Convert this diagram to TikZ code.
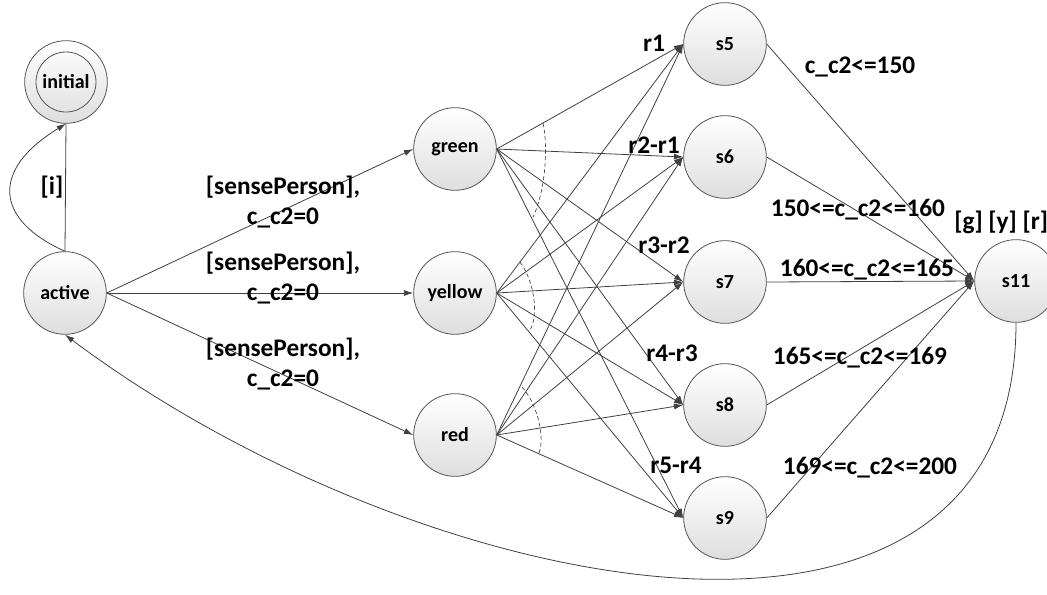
\documentclass[tikz,border=0pt]{standalone}
\usepackage{fontspec}
\setmainfont{Carlito}
\usetikzlibrary{arrows.meta}

\definecolor{linegray}{RGB}{64,64,64}
\definecolor{rimgray}{RGB}{85,85,85}

\tikzset{
  state/.style={circle, draw=rimgray, line width=0.6pt, top color=white, bottom color=black!13,
    minimum size=62pt, inner sep=0pt, font=\fontsize{15}{18}\selectfont\bfseries},
  link/.style={draw=linegray, line width=0.6pt},
  arr/.style={link, -{Latex[length=7pt,width=4.5pt]}},
  lbl/.style={inner sep=0.75pt, align=center, font=\fontsize{19}{23}\selectfont\bfseries},
  sweep/.style={draw=linegray, line width=0.5pt, dash pattern=on 3pt off 2pt}
}

\begin{document}
\begin{tikzpicture}[x=0.75pt,y=0.75pt,yscale=-1,xscale=1]
    \useasboundingbox (0,0) rectangle (1047,594);

    %States
    \node[state] (initial) at (66,82) {initial};
    \draw[rimgray, line width=0.6pt] (initial.center) circle (22.5pt);
    \node[state] (active) at (65,293) {active};
    \node[state] (green) at (455,149) {green};
    \node[state] (yellow) at (455,293) {yellow};
    \node[state] (red) at (455,435) {red};
    \node[state] (s5) at (725,44) {s5};
    \node[state] (s6) at (725,157) {s6};
    \node[state] (s7) at (725,282) {s7};
    \node[state] (s8) at (725,405) {s8};
    \node[state] (s9) at (725,518) {s9};
    \node[state] (s11) at (1016,281) {s11};

    %active <-> initial
    \draw[link] (active.north) -- (initial.south);
    \draw[arr] (active.north) .. controls (-5,220) and (-10,170) .. (initial.south);

    %active -> lights
    \draw[arr] (active.east) -- (green.west);
    \draw[arr] (active.east) -- (yellow.west);
    \draw[arr] (active.east) -- (red.west);

    %lights -> s5..s9
    \draw[arr] (green.east) -- (s5.west);
    \draw[arr] (green.east) -- (s6.west);
    \draw[arr] (green.east) -- (s7.west);
    \draw[arr] (green.east) -- (s8.west);
    \draw[arr] (green.east) -- (s9.west);
    \draw[arr] (yellow.east) -- (s5.west);
    \draw[arr] (yellow.east) -- (s6.west);
    \draw[arr] (yellow.east) -- (s7.west);
    \draw[arr] (yellow.east) -- (s8.west);
    \draw[arr] (yellow.east) -- (s9.west);
    \draw[arr] (red.east) -- (s5.west);
    \draw[arr] (red.east) -- (s6.west);
    \draw[arr] (red.east) -- (s7.west);
    \draw[arr] (red.east) -- (s8.west);
    \draw[arr] (red.east) -- (s9.west);

    %dashed sweeps
    \draw[sweep] (543,123) .. controls (548,145) and (546,190) .. (533,217);
    \draw[sweep] (520,262) .. controls (534,280) and (539,315) .. (530,330);
    \draw[sweep] (522,387) .. controls (538,405) and (546,440) .. (538,455);

    %s5..s9 -> s11
    \draw[arr] (s5.east) -- (s11.west);
    \draw[arr] (s6.east) -- (s11.west);
    \draw[arr] (s7.east) -- (s11.west);
    \draw[arr] (s8.east) -- (s11.west);
    \draw[arr] (s9.east) -- (s11.west);

    %back to active
    \draw[arr] (s11.south) .. controls (1016,720) and (420,600) .. (active.south);

    % Text Node
    \node[lbl] (li) at (52,187) {[i]};
    \node[lbl] (lgreen) at (283,202) {[sensePerson],\\c\_c2=0};
    \node[lbl] (lyellow) at (283,278) {[sensePerson],\\c\_c2=0};
    \node[lbl] (lred) at (283,364) {[sensePerson],\\c\_c2=0};
    % Text Node
    \node[lbl] (lr1) at (654,43) {r1};
    \node[lbl] (lr2) at (654,145) {r2-r1};
    \node[lbl] (lr3) at (664,245) {r3-r2};
    \node[lbl] (lr4) at (672,353) {r4-r3};
    \node[lbl] (lr5) at (676,465) {r5-r4};
    % Text Node
    \node[lbl] (lc5) at (860,67) {c\_c2<=150};
    \node[lbl] (lc6) at (858,210) {150<=c\_c2<=160};
    \node[lbl] (lc7) at (867,270) {160<=c\_c2<=165};
    \node[lbl] (lc8) at (860,358) {165<=c\_c2<=169};
    \node[lbl] (lc9) at (870,468) {169<=c\_c2<=200};
    \node[lbl, anchor=west] (lgyr) at (953,222) {[g] [y] [r]};

\end{tikzpicture}
\end{document}
